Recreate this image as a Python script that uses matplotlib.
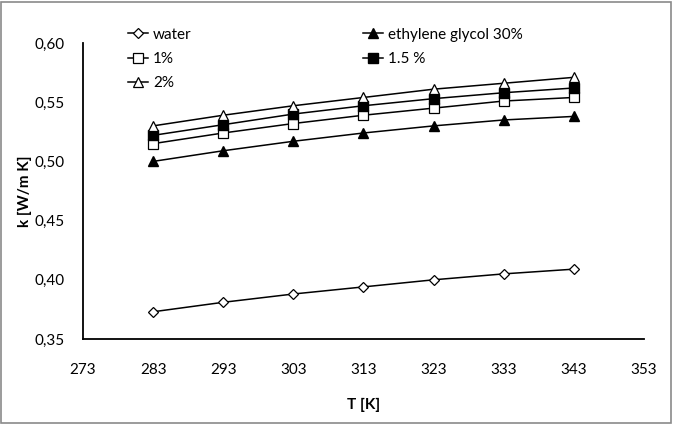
import numpy as np
import matplotlib
matplotlib.use('Agg')
import matplotlib.pyplot as plt
from matplotlib.patches import Rectangle
from matplotlib.ticker import FuncFormatter

plt.rcParams['font.family'] = ['Lato', 'DejaVu Sans']

# temperature [K]
T = [283, 293, 303, 313, 323, 333, 343]
x_ticks = [273, 283, 293, 303, 313, 323, 333, 343, 353]
y_ticks = [0.35, 0.40, 0.45, 0.50, 0.55, 0.60]

# thermal conductivity k [W/m K]
k_water = [0.373, 0.381, 0.388, 0.394, 0.400, 0.405, 0.409]
k_eg30 = [0.500, 0.509, 0.517, 0.524, 0.530, 0.535, 0.538]
k_1 = [0.515, 0.524, 0.532, 0.539, 0.545, 0.551, 0.554]
k_15 = [0.522, 0.531, 0.540, 0.547, 0.553, 0.558, 0.562]
k_2 = [0.530, 0.539, 0.547, 0.554, 0.561, 0.566, 0.571]

fig = plt.figure(figsize=(6.73, 4.24), dpi=100)
ax = fig.add_axes([83/673, 1 - 339/424, (644 - 83)/673, (339 - 43)/424])

lw = 1.1
h_water, = ax.plot(T, k_water, color='black', lw=lw, marker='D', ms=5.5,
                   mfc='white', mec='black', mew=0.9, label='water')
h_eg, = ax.plot(T, k_eg30, color='black', lw=lw, marker='^', ms=7.5,
                mfc='black', mec='black', label='ethylene glycol 30%')
h_1, = ax.plot(T, k_1, color='black', lw=lw, marker='s', ms=6.5,
               mfc='white', mec='black', mew=0.9, label='1%')
h_15, = ax.plot(T, k_15, color='black', lw=lw, marker='s', ms=6.5,
                mfc='black', mec='black', label='1.5 %')
h_2, = ax.plot(T, k_2, color='black', lw=lw, marker='^', ms=7.5,
               mfc='white', mec='black', mew=0.9, label='2%')

ax.set_xlim(273, 353)
ax.set_ylim(0.35, 0.60)
ax.set_xticks(x_ticks)
ax.set_yticks(y_ticks)
ax.yaxis.set_major_formatter(FuncFormatter(lambda v, p: f'{v:.2f}'.replace('.', ',')))
ax.tick_params(length=0, labelsize=11)
ax.tick_params(axis='x', pad=17)
ax.tick_params(axis='y', pad=13)

for s in ['top', 'right']:
    ax.spines[s].set_visible(False)
for s in ['left', 'bottom']:
    ax.spines[s].set_linewidth(1.3)

ax.set_xlabel('T [K]', fontsize=11, fontweight='bold', labelpad=15)
ax.set_ylabel('k [W/m K]', fontsize=11, fontweight='bold', labelpad=2)

leg = fig.legend(handles=[h_water, h_1, h_2, h_eg, h_15], ncol=2,
                 loc='upper left', bbox_to_anchor=(120/673, 1 - 20/424),
                 frameon=False, fontsize=11, handlelength=1.35,
                 handletextpad=0.3, columnspacing=11.2, labelspacing=0.68,
                 borderpad=0)

fig.patches.append(Rectangle((0.002, 0.003), 0.995, 0.993, transform=fig.transFigure,
                             fill=False, edgecolor='#8a8a8a', lw=1.2))

fig.savefig('out.png', dpi=100)
